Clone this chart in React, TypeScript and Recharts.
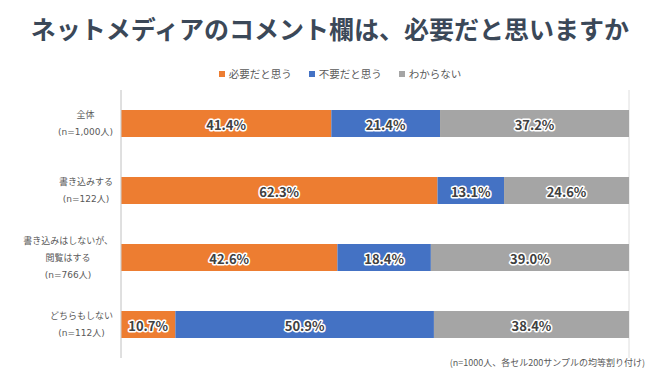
import React from 'react';
import { Bar, BarChart, CartesianGrid, LabelList, XAxis, YAxis } from 'recharts';

// 回答者グループ（改行は \n）
const groups = [
  '全体\n(n=1,000人)',
  '書き込みする\n(n=122人)',
  '書き込みはしないが、\n閲覧はする\n(n=766人)',
  'どちらもしない\n(n=112人)',
];
const necessary = [41.4, 62.3, 42.6, 10.7];
const unnecessary = [21.4, 13.1, 18.4, 50.9];
const unknown = [37.2, 24.6, 39.0, 38.4];
const xTicks = [0, 10, 20, 30, 40, 50, 60, 70, 80, 90, 100];

const series = [
  { key: 'necessary', name: '必要だと思う', color: '#ED7D31' },
  { key: 'unnecessary', name: '不要だと思う', color: '#4472C4' },
  { key: 'unknown', name: 'わからない', color: '#A5A5A5' },
];

const data = groups.map((g, i) => ({
  group: g,
  necessary: necessary[i],
  unnecessary: unnecessary[i],
  unknown: unknown[i],
}));

const FONT = '"Noto Sans CJK JP", "Noto Sans", sans-serif';
const LABEL_FONT = '"DejaVu Sans", "Noto Sans CJK JP", sans-serif';
const LABEL_SIZE = 9;

// measure with a canvas so multi-line labels can be centred in a right-aligned block
let ctx: CanvasRenderingContext2D | null = null;
function textWidth(s: string) {
  if (!ctx) ctx = document.createElement('canvas').getContext('2d');
  if (!ctx) return s.length * LABEL_SIZE;
  ctx.font = `${LABEL_SIZE}px ${LABEL_FONT}`;
  return ctx.measureText(s).width;
}

function GroupTick(props: any) {
  const { y, payload } = props;
  const lines: string[] = String(payload.value).split('\n');
  const lh = 17;
  const block = Math.max(...lines.map((l) => textWidth(l)));
  const right = 113;
  const cx = right - block / 2;
  const top = y - ((lines.length - 1) * lh) / 2;
  return (
    <g>
      {lines.map((l, i) => (
        <text
          key={i}
          x={cx}
          y={top + i * lh}
          textAnchor="middle"
          dominantBaseline="central"
          fontSize={LABEL_SIZE}
          fill="#595959"
          fontFamily={LABEL_FONT}
        >
          {l}
        </text>
      ))}
    </g>
  );
}

function ValueLabel(props: any) {
  const { x, y, width, height, value } = props;
  if (value == null) return null;
  return (
    <text
      x={x + width / 2}
      y={y + height / 2 + 1}
      textAnchor="middle"
      dominantBaseline="central"
      fontSize={13}
      fontWeight="bold"
      fill="#404040"
      stroke="#ffffff"
      strokeWidth={3}
      strokeLinejoin="round"
      paintOrder="stroke"
      fontFamily={FONT}
    >
      {`${Number(value).toFixed(1)}%`}
    </text>
  );
}

export default function App() {
  return (
    <div
      style={{
        position: 'absolute',
        left: 0,
        top: 0,
        width: 660,
        height: 371,
        background: '#fff',
        fontFamily: FONT,
      }}
    >
      <div
        style={{
          position: 'absolute',
          top: 11,
          left: 0,
          width: 660,
          textAlign: 'center',
          fontSize: 25,
          fontWeight: 'bold',
          color: '#3b4858',
          lineHeight: '34px',
        }}
      >
        ネットメディアのコメント欄は、必要だと思いますか
      </div>
      <div
        style={{
          position: 'absolute',
          top: 66,
          left: 10,
          width: 660,
          display: 'flex',
          justifyContent: 'center',
          gap: 17,
          fontSize: 10.5,
          color: '#595959',
          lineHeight: '16px',
        }}
      >
        {series.map((s) => (
          <span key={s.key} style={{ display: 'flex', alignItems: 'center' }}>
            <span
              style={{
                display: 'inline-block',
                width: 6,
                height: 6,
                background: s.color,
                marginRight: 4,
              }}
            />
            {s.name}
          </span>
        ))}
      </div>
      <BarChart
        width={660}
        height={371}
        data={data}
        layout="vertical"
        margin={{ top: 90, right: 31, bottom: 13, left: 0 }}
      >
        <CartesianGrid horizontal={false} stroke="#dedede" />
        <XAxis
          type="number"
          domain={[0, 100]}
          ticks={xTicks}
          tick={false}
          axisLine={false}
          tickLine={false}
          height={0}
        />
        <YAxis
          type="category"
          dataKey="group"
          width={121}
          tick={<GroupTick />}
          axisLine={{ stroke: '#d0d0d0' }}
          tickLine={false}
          interval={0}
        />
        {series.map((s) => (
          <Bar
            key={s.key}
            dataKey={s.key}
            name={s.name}
            stackId="a"
            fill={s.color}
            barSize={27}
            isAnimationActive={false}
          >
            <LabelList dataKey={s.key} content={<ValueLabel />} />
          </Bar>
        ))}
      </BarChart>
      <div
        style={{
          position: 'absolute',
          top: 356,
          right: 15,
          fontSize: 9,
          color: '#595959',
          lineHeight: '14px',
        }}
      >
        (n=1000人、各セル200サンプルの均等割り付け)
      </div>
    </div>
  );
}
